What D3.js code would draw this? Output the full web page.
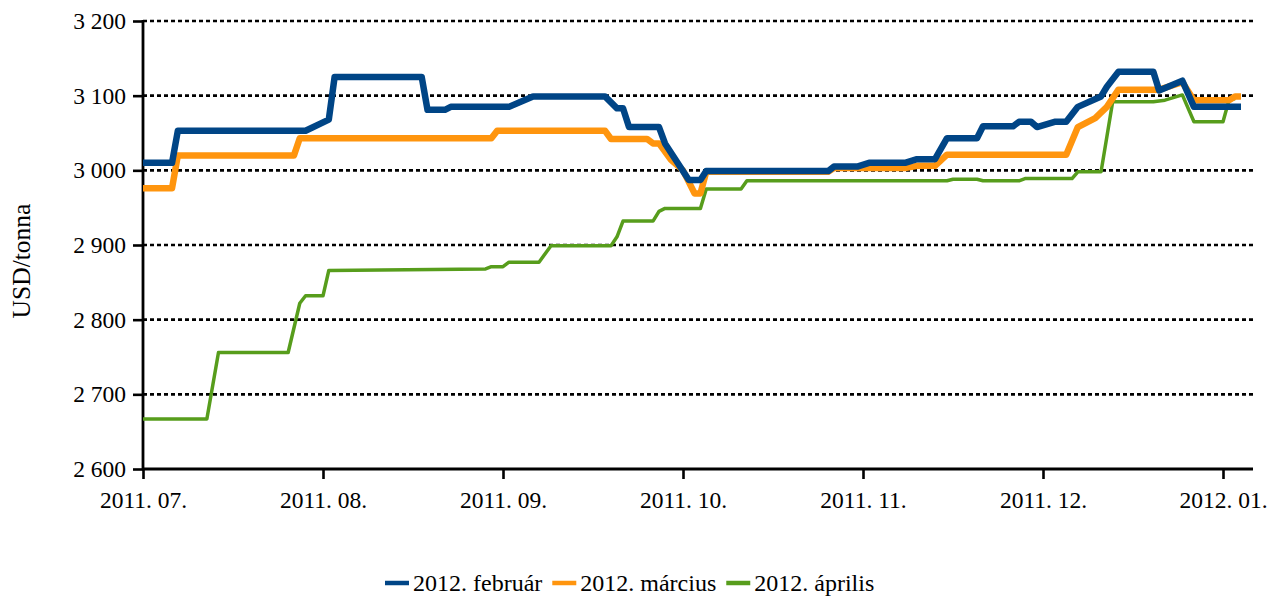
<!DOCTYPE html>
<html>
<head>
<meta charset="utf-8">
<script src="https://cdn.jsdelivr.net/npm/d3@7"></script>
<style>
  html, body { margin: 0; padding: 0; background: #fff; }
  svg { display: block; }
</style>
</head>
<body>
<svg id="chart" width="1279" height="600"></svg>
<script>
// ---------- DATA ----------
const monthTicks = ["2011-07-01","2011-08-01","2011-09-01","2011-10-01","2011-11-01","2011-12-01","2012-01-01"];
const monthTickLabels = ["2011. 07.","2011. 08.","2011. 09.","2011. 10.","2011. 11.","2011. 12.","2012. 01."];
const yTicks = [2600, 2700, 2800, 2900, 3000, 3100, 3200];
const yTickLabels = ["2 600","2 700","2 800","2 900","3 000","3 100","3 200"];
const seriesNames = ["2012. február", "2012. március", "2012. április"];
const seriesColors = ["#004586", "#ff950e", "#579d1c"];

const febDates = ["2011-07-01","2011-07-06","2011-07-07","2011-07-29","2011-08-02","2011-08-03","2011-08-18","2011-08-19","2011-08-22","2011-08-23",
  "2011-09-02","2011-09-06","2011-09-18","2011-09-20","2011-09-21","2011-09-22","2011-09-27","2011-09-28","2011-10-02","2011-10-04",
  "2011-10-05","2011-10-26","2011-10-27","2011-10-31","2011-11-02","2011-11-08","2011-11-10","2011-11-13","2011-11-15","2011-11-20",
  "2011-11-21","2011-11-26","2011-11-27","2011-11-29","2011-11-30","2011-12-03","2011-12-05","2011-12-07","2011-12-11","2011-12-12",
  "2011-12-14","2011-12-20","2011-12-21","2011-12-25","2011-12-27","2012-01-04"];
const febValues = [3010,3010,3053,3053,3068,3125,3125,3081,3081,3085,
  3085,3099,3099,3083,3083,3058,3058,3036,2987,2987,
  2999,2999,3005,3005,3010,3010,3015,3015,3043,3043,
  3059,3059,3065,3065,3058,3065,3065,3085,3099,3112,
  3132,3132,3107,3120,3085,3085];

const marDates = ["2011-07-01","2011-07-06","2011-07-07","2011-07-27","2011-07-28","2011-08-30","2011-08-31","2011-09-18","2011-09-19","2011-09-25",
  "2011-09-26","2011-09-27","2011-09-29","2011-10-01","2011-10-03","2011-10-04","2011-10-05","2011-10-26","2011-10-27","2011-11-08",
  "2011-11-10","2011-11-13","2011-11-15","2011-12-05","2011-12-07","2011-12-10","2011-12-12","2011-12-14","2011-12-21","2011-12-25",
  "2011-12-27","2012-01-02","2012-01-03","2012-01-04"];
const marValues = [2976,2976,3020,3020,3043,3043,3053,3053,3042,3042,
  3036,3036,3014,3000,2969,2969,2998,2998,3003,3003,
  3006,3006,3021,3021,3058,3070,3085,3108,3108,3118,
  3094,3094,3099,3099];

const aprDates = ["2011-07-01","2011-07-12","2011-07-14","2011-07-26","2011-07-28","2011-07-29","2011-08-01","2011-08-02","2011-08-29","2011-08-30",
  "2011-09-01","2011-09-02","2011-09-07","2011-09-09","2011-09-19","2011-09-20","2011-09-21","2011-09-26","2011-09-27","2011-09-28",
  "2011-10-04","2011-10-05","2011-10-11","2011-10-12","2011-11-15","2011-11-16","2011-11-20","2011-11-21","2011-11-27","2011-11-28",
  "2011-12-06","2011-12-07","2011-12-11","2011-12-12","2011-12-13","2011-12-20","2011-12-22","2011-12-25","2011-12-27","2012-01-01",
  "2012-01-02","2012-01-03"];
const aprValues = [2667,2667,2756,2756,2822,2832,2832,2866,2868,2871,
  2871,2877,2877,2899,2899,2911,2932,2932,2945,2949,
  2949,2975,2975,2986,2986,2988,2988,2986,2986,2989,
  2989,2998,2998,3045,3092,3092,3094,3101,3065,3065,
  3094,3096];

// ---------- LAYOUT ----------
const SERIF = "'Liberation Serif', 'Times New Roman', Tinos, 'DejaVu Serif', serif";
const svg = d3.select("#chart").style("font-family", SERIF);
const parse = d3.utcParse("%Y-%m-%d");
const plotL = 143, plotR = 1253, plotT = 21, plotB = 469;
const monthW = 180;

const xDomain = monthTicks.map(parse).concat([parse("2012-01-06")]);
const xRange = monthTicks.map((d, i) => plotL + i * monthW).concat([plotR]);
const x = d3.scaleUtc().domain(xDomain).range(xRange);
const y = d3.scaleLinear().domain([2600, 3200]).range([plotB, plotT]);

const FONT = 23.5;

// gridlines
svg.append("g")
  .selectAll("line")
  .data(yTicks.filter(v => v > 2600))
  .join("line")
  .attr("x1", plotL).attr("x2", plotR)
  .attr("y1", d => y(d)).attr("y2", d => y(d))
  .attr("stroke", "#000").attr("stroke-width", 2.6)
  .attr("stroke-dasharray", "4,3");

// y axis
const yAxis = d3.axisLeft(y).tickValues(yTicks)
  .tickFormat((d, i) => yTickLabels[i]).tickSize(10).tickPadding(7);
const gy = svg.append("g").attr("transform", `translate(${plotL},0)`).call(yAxis);
gy.attr("font-family", null).attr("font-size", null);
gy.select(".domain").remove();
gy.selectAll(".tick line").attr("stroke", "#000").attr("stroke-width", 2.6);
gy.selectAll(".tick text").style("font-family", SERIF).style("font-size", FONT + "px").attr("fill", "#000");
svg.append("line").attr("x1", plotL).attr("x2", plotL).attr("y1", plotT - 1).attr("y2", plotB + 1)
  .attr("stroke", "#000").attr("stroke-width", 2.8);

// x axis
const xAxis = d3.axisBottom(x).tickValues(monthTicks.map(parse))
  .tickFormat((d, i) => monthTickLabels[i]).tickSize(10).tickPadding(12);
const gx = svg.append("g").attr("transform", `translate(0,${plotB})`).call(xAxis);
gx.attr("font-family", null).attr("font-size", null);
gx.select(".domain").remove();
gx.selectAll(".tick line").attr("stroke", "#000").attr("stroke-width", 2.6);
gx.selectAll(".tick text").style("font-family", SERIF).style("font-size", FONT + "px").attr("fill", "#000");
svg.append("line").attr("x1", plotL - 1).attr("x2", plotR).attr("y1", plotB).attr("y2", plotB)
  .attr("stroke", "#000").attr("stroke-width", 2.8);

// y title
svg.append("text")
  .attr("transform", `translate(30,261) rotate(-90)`)
  .attr("text-anchor", "middle")
  .style("font-family", SERIF).style("font-size", "25.5px")
  .text("USD/tonna");

// series
const series = [
  { dates: aprDates, values: aprValues, color: seriesColors[2], width: 3.5 },
  { dates: marDates, values: marValues, color: seriesColors[1], width: 6.5 },
  { dates: febDates, values: febValues, color: seriesColors[0], width: 6.5 }
];
const line = d3.line().x(d => x(d[0])).y(d => y(d[1]));
series.forEach(s => {
  const pts = s.dates.map((d, i) => [parse(d), s.values[i]]);
  svg.append("path").datum(pts)
    .attr("d", line)
    .attr("fill", "none")
    .attr("stroke", s.color)
    .attr("stroke-width", s.width)
    .attr("stroke-linejoin", "round");
});

// legend
const lg = svg.append("g");
let lx = 385;
const ly = 583;
seriesNames.forEach((name, i) => {
  lg.append("line").attr("x1", lx).attr("x2", lx + 24).attr("y1", ly).attr("y2", ly)
    .attr("stroke", seriesColors[i]).attr("stroke-width", 4.5);
  const t = lg.append("text").attr("x", lx + 28).attr("y", ly + 8)
    .style("font-family", SERIF).style("font-size", "24px").text(name);
  lx += 28 + t.node().getComputedTextLength() + 10;
});
</script>
</body>
</html>
